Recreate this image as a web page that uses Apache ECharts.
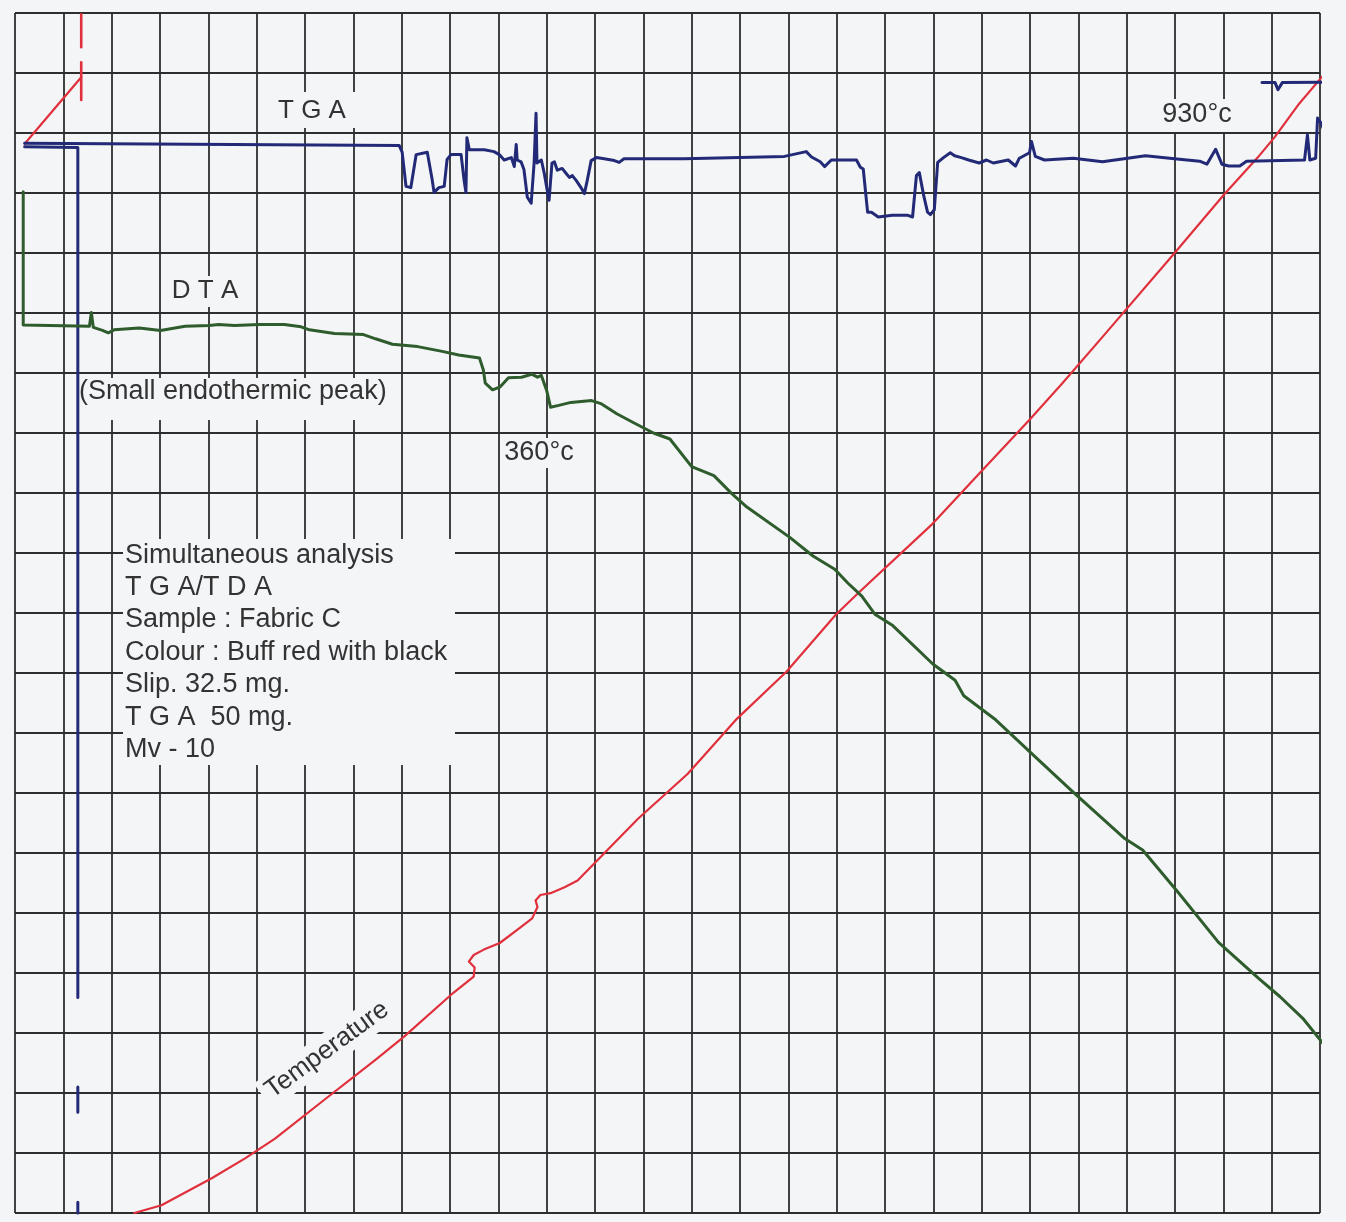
<!DOCTYPE html>
<html>
<head>
<meta charset="utf-8">
<script src="https://cdn.jsdelivr.net/npm/echarts@6/dist/echarts.min.js"></script>
<style>
html,body{margin:0;padding:0;background:#f4f5f7;}
#chart{width:1346px;height:1222px;}
</style>
</head>
<body>
<div id="chart"></div>
<script>
// Chart-paper divisions (x: time divisions, y: divisions from top)
const gridColumns = 27;
const gridRows = 20;

// TGA trace (blue) [x div, y div]
const tgaMain = [[0.20,2.17],[7.95,2.21],[8.01,2.32],[8.09,2.89],[8.19,2.91],[8.30,2.36],[8.53,2.32],[8.63,2.77],[8.67,2.99],[8.77,2.91],[8.88,2.89],[8.94,2.44],[9.02,2.36],[9.23,2.36],[9.29,2.78],[9.33,2.99],[9.35,2.08],[9.40,2.28],[9.71,2.28],[9.91,2.31],[10.02,2.36],[10.12,2.45],[10.27,2.41],[10.33,2.56],[10.37,2.19],[10.39,2.45],[10.47,2.48],[10.53,2.61],[10.60,3.07],[10.68,3.17],[10.74,2.50],[10.78,1.67],[10.80,2.50],[10.89,2.45],[10.95,2.67],[11.01,2.95],[11.05,3.12],[11.11,2.50],[11.16,2.48],[11.22,2.62],[11.32,2.59],[11.40,2.67],[11.47,2.74],[11.53,2.71],[11.61,2.79],[11.71,2.91],[11.78,3.01],[11.84,2.79],[11.92,2.46],[12.03,2.41],[12.19,2.43],[12.40,2.46],[12.50,2.49],[12.60,2.43],[13.85,2.43],[15.92,2.39],[16.37,2.31],[16.48,2.40],[16.66,2.48],[16.75,2.56],[16.89,2.45],[17.41,2.45],[17.49,2.57],[17.55,2.60],[17.64,3.32],[17.72,3.32],[17.86,3.40],[18.15,3.37],[18.46,3.37],[18.57,3.40],[18.65,2.71],[18.71,2.66],[18.80,3.04],[18.88,3.32],[18.94,3.36],[19.02,3.28],[19.09,2.49],[19.21,2.41],[19.35,2.33],[19.44,2.38],[19.58,2.41],[19.73,2.45],[19.95,2.50],[20.10,2.45],[20.24,2.50],[20.55,2.45],[20.70,2.55],[20.78,2.42],[20.99,2.33],[21.03,2.14],[21.11,2.39],[21.30,2.45],[21.90,2.42],[22.50,2.48],[23.39,2.38],[23.99,2.43],[24.51,2.47],[24.66,2.52],[24.84,2.27],[24.97,2.52],[25.11,2.55],[25.34,2.55],[25.48,2.47],[26.68,2.45],[26.74,2.03],[26.79,2.45],[26.91,2.42],[26.95,1.75],[27.02,1.83],[27.06,1.91],[27.10,2.00],[27.12,2.15]];
// TGA start step and drop line, with end marks near the bottom
const tgaStart = [[0.20,2.23],[1.30,2.24],[1.30,16.41],null,[1.30,17.90],[1.30,18.32],null,[1.30,19.82],[1.30,20.00]];
// TGA top-right return segment
const tgaEnd = [[25.80,1.16],[26.07,1.16],[26.13,1.28],[26.22,1.16],[27.32,1.15],null,[27.32,1.50],[27.32,0.90],[27.65,0.90]];

// DTA trace (green)
const dtaCurve = [[0.17,2.98],[0.17,5.20],[1.54,5.22],[1.58,4.99],[1.62,5.24],[1.81,5.29],[1.93,5.33],[2.05,5.28],[2.57,5.25],[3.01,5.29],[3.52,5.22],[4.02,5.21],[4.21,5.19],[4.54,5.21],[5.06,5.19],[5.57,5.19],[5.92,5.23],[6.09,5.28],[6.61,5.34],[7.21,5.36],[7.46,5.43],[7.81,5.52],[8.33,5.56],[8.84,5.64],[9.18,5.70],[9.61,5.75],[9.69,5.95],[9.73,6.17],[9.88,6.28],[10.04,6.23],[10.21,6.08],[10.48,6.07],[10.69,6.02],[10.81,6.07],[10.89,6.04],[11.00,6.29],[11.08,6.57],[11.25,6.54],[11.50,6.49],[11.93,6.46],[12.12,6.51],[12.45,6.68],[12.80,6.83],[13.21,7.00],[13.55,7.10],[14.00,7.56],[14.46,7.71],[14.83,8.01],[15.12,8.22],[16.03,8.74],[16.51,9.05],[16.96,9.27],[17.23,9.50],[17.52,9.72],[17.79,10.02],[18.16,10.21],[18.99,10.85],[19.45,11.12],[19.63,11.38],[20.29,11.78],[21.02,12.33],[21.87,12.97],[22.96,13.76],[23.33,13.95],[24.08,14.67],[24.90,15.49],[25.73,16.09],[26.18,16.40],[26.66,16.77],[27.11,17.22]];

// Temperature trace (red)
const tempMain = [[2.47,20.00],[3.03,19.87],[4.07,19.42],[4.76,19.09],[5.38,18.76],[6.42,18.10],[7.47,17.44],[8.05,17.06],[9.07,16.33],[9.49,16.06],[9.51,15.91],[9.39,15.81],[9.49,15.70],[9.70,15.61],[10.03,15.50],[10.39,15.28],[10.70,15.09],[10.81,14.90],[10.77,14.79],[10.87,14.70],[11.08,14.67],[11.37,14.57],[11.64,14.46],[12.89,13.43],[13.92,12.68],[14.94,11.76],[15.96,10.98],[16.99,10.02],[17.47,9.65],[18.95,8.54],[19.98,7.65],[21.00,6.77],[21.67,6.17],[22.51,5.39],[23.97,4.02],[25.02,3.02],[25.71,2.41],[26.07,2.06],[26.55,1.53],[27.11,1.00]];
const tempStart = [[0.20,2.18],[1.37,1.07]];
const tempMarker = [[1.37,0.02],[1.37,0.57],null,[1.37,0.82],[1.37,1.45]];

const paper = '#f4f5f7';
const ink = '#333333';
const fontFam = '"Liberation Sans", Arial, sans-serif';

const chart = echarts.init(document.getElementById('chart'), null, {renderer: 'canvas'});

function lineSeries(name, data, color, width) {
  return {
    name: name, type: 'line', data: data, showSymbol: false, symbol: 'none',
    clip: false, connectNulls: false, z: 5,
    lineStyle: {color: color, width: width, join: 'round', cap: 'round'},
    emphasis: {disabled: true}
  };
}

function box(x, y, w, h) {
  return {type: 'rect', z: 3, shape: {x: x, y: y, width: w, height: h}, style: {fill: paper}, silent: true};
}
function label(text, x, y, size, align) {
  return {type: 'text', z: 4, x: x, y: y, silent: true,
    style: {text: text, x: 0, y: 0, fill: ink, font: size + 'px ' + fontFam, align: align || 'center', verticalAlign: 'middle'}};
}

const option = {
  backgroundColor: paper,
  animation: false,
  grid: {left: 15, right: 26, top: 13, bottom: 9, containLabel: false},
  xAxis: {
    type: 'value', min: 0, max: gridColumns, interval: 1,
    axisLine: {show: false}, axisTick: {show: false}, axisLabel: {show: false},
    splitLine: {show: true, lineStyle: {color: '#2e2e2e', width: 1.8}}
  },
  yAxis: {
    type: 'value', inverse: true, min: 0, max: gridRows, interval: 1,
    axisLine: {show: false}, axisTick: {show: false}, axisLabel: {show: false},
    splitLine: {show: true, lineStyle: {color: '#2e2e2e', width: 1.8}}
  },
  series: [
    lineSeries('Temperature', tempMain, '#e0303c', 2.2),
    lineSeries('Temperature start', tempStart, '#e0303c', 2.2),
    lineSeries('Temperature marker', tempMarker, '#e0303c', 2.6),
    lineSeries('TGA', tgaMain, '#222a78', 3),
    lineSeries('TGA start', tgaStart, '#222a78', 3),
    lineSeries('TGA end', tgaEnd, '#222a78', 3),
    lineSeries('DTA', dtaCurve, '#2e5c2c', 3)
  ],
  graphic: [
    box(268, 92, 88, 36),
    label('T G A', 312, 111, 26),
    box(165, 276, 82, 31),
    label('D T A', 205, 291, 26),
    box(80, 378, 312, 42),
    label('(Small endothermic peak)', 79, 392, 27, 'left'),
    box(500, 438, 78, 30),
    label('360°c', 539, 453, 27),
    box(1160, 99, 76, 33),
    label('930°c', 1197, 115, 27),
    box(123, 539, 332, 226),
    {type: 'text', z: 4, x: 125, y: 539, silent: true,
      style: {text: 'Simultaneous analysis\nT G A/T D A\nSample : Fabric C\nColour : Buff red with black\nSlip. 32.5 mg.\nT G A  50 mg.\nMv - 10',
        x: 0, y: 0, fill: ink, font: '27px ' + fontFam, lineHeight: 32.4, align: 'left', verticalAlign: 'top'}},
    {type: 'text', z: 4, x: 327, y: 1050, rotation: 0.63, silent: true,
      style: {text: 'Temperature', x: 0, y: 0, fill: ink, font: '26px ' + fontFam, align: 'center', verticalAlign: 'middle',
        backgroundColor: paper, padding: [3, 6, 3, 6]}}
  ]
};
chart.setOption(option);
</script>
</body>
</html>
